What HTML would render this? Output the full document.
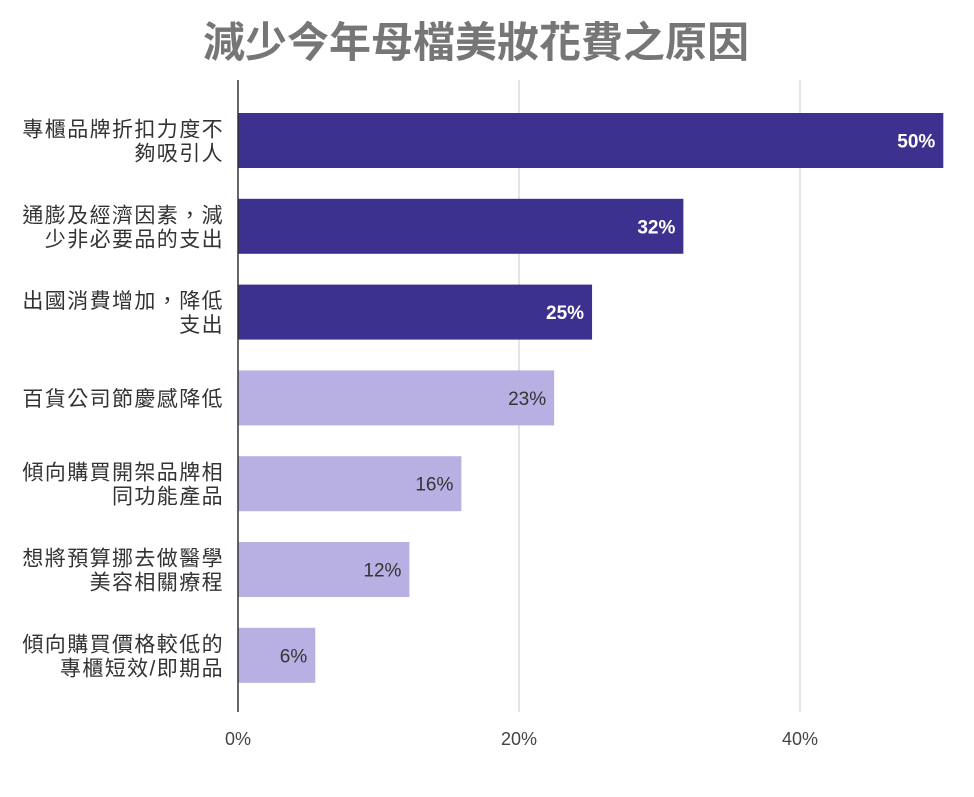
<!DOCTYPE html>
<html><head><meta charset="utf-8">
<style>
body{margin:0;background:#fff;width:974px;height:792px;overflow:hidden;font-family:"Liberation Sans","Noto Sans CJK TC",sans-serif;}
</style></head>
<body>
<svg width="974" height="792" xmlns="http://www.w3.org/2000/svg">
<text x="476" y="57" text-anchor="middle" font-size="42" font-weight="bold" fill="#767676" font-family="Liberation Sans, Noto Sans CJK TC, sans-serif">減少今年母檔美妝花費之原因</text>
<g id="grid"></g>
<g id="bars"></g>
<g id="labels"></g>
<line x1="238" y1="80" x2="238" y2="712" stroke="#333" stroke-width="1.5"/>
</svg>
<script>
const categories=[["專櫃品牌折扣力度不","夠吸引人"],["通膨及經濟因素，減","少非必要品的支出"],["出國消費增加，降低","支出"],["百貨公司節慶感降低"],["傾向購買開架品牌相","同功能產品"],["想將預算挪去做醫學","美容相關療程"],["傾向購買價格較低的","專櫃短效/即期品"]];
const values=[50.2,31.7,25.2,22.5,15.9,12.2,5.5];
const highlighted=[true,true,true,false,false,false,false];
const ticks=[0,20,40];
const NS="http://www.w3.org/2000/svg";
const x0=238,pxPer=(519-238)/20,top0=113,pitch=85.8,bh=55;
const xs=v=>x0+v*pxPer;
const ys=i=>top0+i*pitch;
function mk(t,a){const e=document.createElementNS(NS,t);for(const k in a)e.setAttribute(k,a[k]);return e;}
const grid=document.getElementById('grid'),bars=document.getElementById('bars'),labels=document.getElementById('labels');
ticks.forEach(t=>{
 if(t>0){const l=mk('line',{x1:xs(t),x2:xs(t),y1:80,y2:712,stroke:'#c8c8c8','stroke-width':1});
 
 grid.appendChild(l);}
 const tx=mk('text',{x:xs(t),y:745,'text-anchor':'middle','font-size':18,fill:'#444'});
 
 
 tx.textContent=t+'%';grid.appendChild(tx);
});
values.forEach((v,i)=>{
 const y=ys(i);
 const r=mk('rect',{x:x0,y:y,width:xs(v)-x0,height:bh,fill:highlighted[i]?'#3d3190':'#b8b0e3'});
 
 bars.appendChild(r);
 const vt=mk('text',{x:xs(v)-8,y:y+bh/2+7,'text-anchor':'end','font-size':19,'font-weight':highlighted[i]?'bold':'normal',fill:highlighted[i]?'#fff':'#333'});
 
 
 vt.textContent=Math.round(v)+'%';bars.appendChild(vt);
 const lines=categories[i];
 const start=y+bh/2+8-(lines.length-1)*12;
 lines.forEach((s,j)=>{
  const ct=mk('text',{x:224,y:start+j*24,'text-anchor':'end','font-size':21,'letter-spacing':1.4,fill:'#333'});
  
  
  ct.textContent=s;labels.appendChild(ct);
 });
});
</script>
</body></html>
